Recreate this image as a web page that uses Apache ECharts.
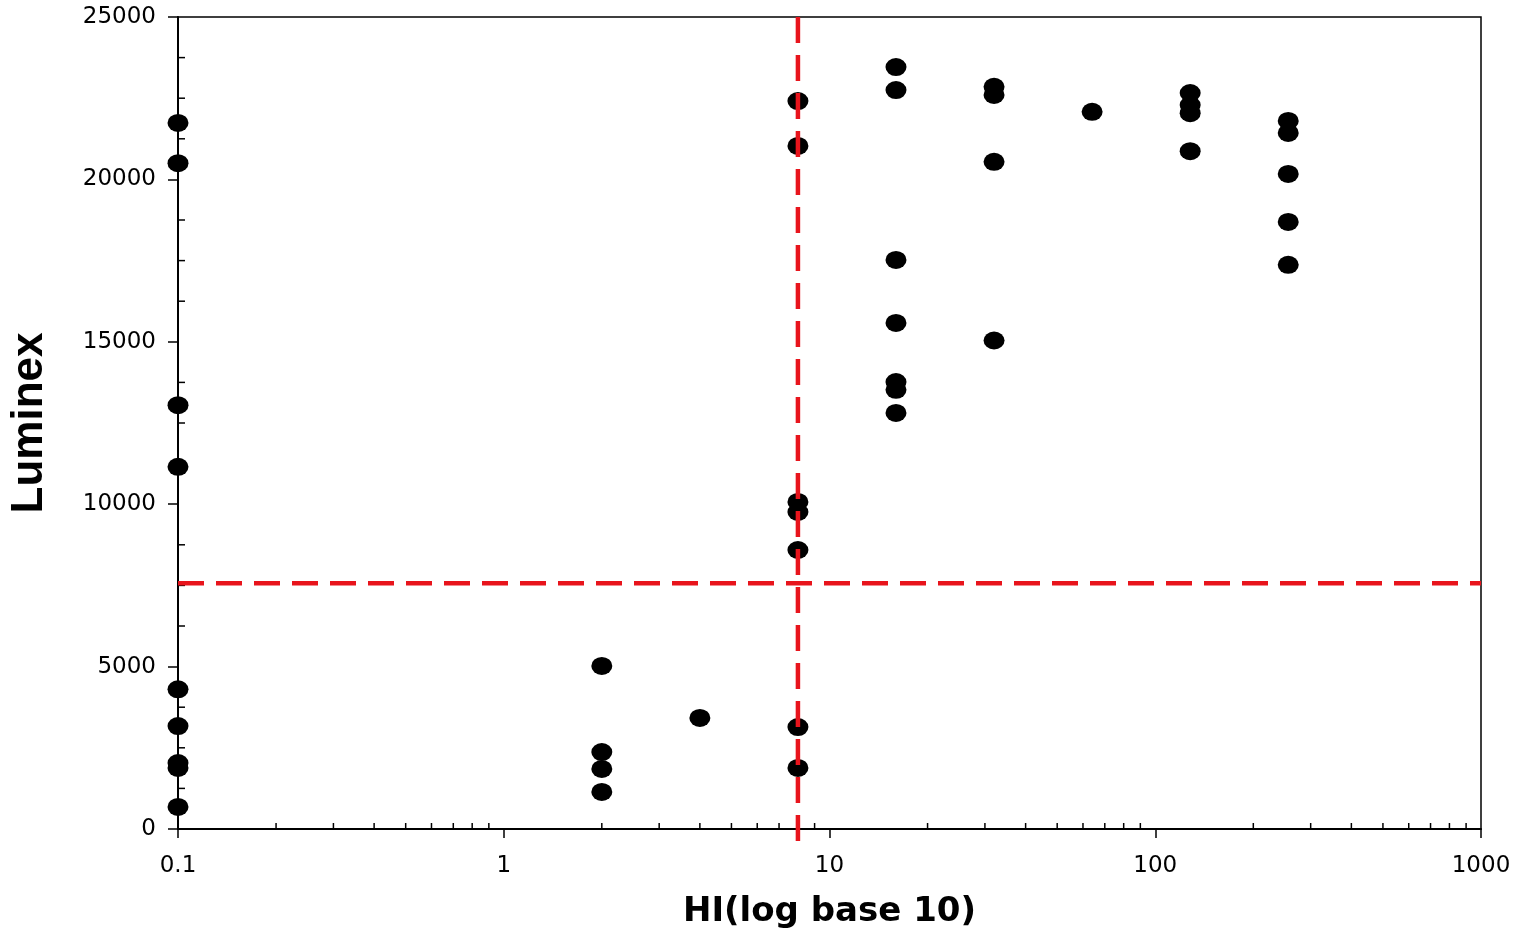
<!DOCTYPE html>
<html>
<head>
<meta charset="utf-8">
<script src="https://cdn.jsdelivr.net/npm/echarts@6/dist/echarts.min.js"></script>
<style>
  html, body { margin: 0; background: #fff; }
  #chart { width: 1526px; height: 937px; }
</style>
</head>
<body>
<div id="chart"></div>
<script>
// HI titres (x) and the Luminex readings seen at each titre (y)
var hiTiters = [0.1, 2, 4, 8, 16, 32, 64, 128, 256];
var luminex01 = [21740, 20500, 13050, 11150, 4300, 3170, 2030, 1880, 680];
var luminex2 = [5020, 2370, 1850, 1140];
var luminex4 = [3420];
var luminex8 = [22410, 21030, 10070, 9760, 8590, 3140, 1880];
var luminex16 = [23460, 22750, 17520, 15580, 13760, 13520, 12810];
var luminex32 = [22850, 22600, 20540, 15040];
var luminex64 = [22080];
var luminex128 = [22660, 22290, 22040, 20870];
var luminex256 = [21800, 21430, 20170, 18690, 17370];
var luminexByTiter = [luminex01, luminex2, luminex4, luminex8, luminex16, luminex32, luminex64, luminex128, luminex256];

// cut-off lines
var hiCutoff = 8;
var luminexCutoff = 7570;

// axis ticks
var xMin = 0.1, xMax = 1000;
var yMin = 0, yMax = 25000, yStep = 5000, yMinorStep = 1250;
var xMinorTicks = [];
[0.1, 1, 10, 100].forEach(function (d) {
  for (var k = 2; k <= 9; k++) xMinorTicks.push(+(d * k).toPrecision(3));
});
var yMinorTicks = [];
for (var v = yMinorStep; v < yMax; v += yMinorStep) {
  if (v % yStep !== 0) yMinorTicks.push(v);
}

var points = [];
hiTiters.forEach(function (hi, i) {
  luminexByTiter[i].forEach(function (y) { points.push([hi, y]); });
});

var RED = '#e8141c';

var chart = echarts.init(document.getElementById('chart'));
chart.setOption({
  backgroundColor: '#fff',
  animation: false,
  grid: {
    left: 178, right: 45, top: 17, bottom: 108,
    show: true, borderColor: '#000', borderWidth: 1.5, backgroundColor: 'transparent'
  },
  xAxis: {
    type: 'log',
    logBase: 10,
    min: xMin,
    max: xMax,
    name: 'HI(log base 10)',
    nameLocation: 'middle',
    nameGap: 66,
    nameTextStyle: { fontFamily: 'DejaVu Sans', fontWeight: 'bold', fontSize: 34, color: '#000' },
    axisLine: { onZero: false, lineStyle: { color: '#000', width: 2 } },
    axisTick: { length: 9, lineStyle: { color: '#000', width: 1.5 } },
    axisLabel: {
      margin: 26, fontFamily: 'DejaVu Sans', fontSize: 23, color: '#000',
      formatter: function (v) { return String(+v.toPrecision(3)); }
    },
    splitLine: { show: false }
  },
  yAxis: {
    type: 'value',
    min: yMin,
    max: yMax,
    interval: yStep,
    name: 'Luminex',
    nameLocation: 'middle',
    nameGap: 126,
    nameTextStyle: { fontFamily: 'Liberation Sans', fontWeight: 'bold', fontSize: 44, color: '#000' },
    axisLine: { onZero: false, lineStyle: { color: '#000', width: 2 } },
    axisTick: { length: 10, lineStyle: { color: '#000', width: 1.5 } },
    axisLabel: {
      margin: 22, fontFamily: 'DejaVu Sans', fontSize: 23, color: '#000',
      formatter: function (v) { return String(v); }
    },
    splitLine: { show: false }
  },
  series: [
    {
      name: 'samples',
      type: 'scatter',
      data: points,
      symbol: 'circle',
      symbolSize: [21, 18],
      clip: false,
      itemStyle: { color: '#000', opacity: 1 },
      z: 3
    },
    {
      // minor ticks on the log x axis, pointing inward
      type: 'custom',
      silent: true,
      clip: false,
      data: xMinorTicks.map(function (t) { return [t, yMin]; }),
      renderItem: function (params, api) {
        var p = api.coord([api.value(0), api.value(1)]);
        return {
          type: 'line',
          shape: { x1: p[0], y1: p[1], x2: p[0], y2: p[1] - 6 },
          style: { stroke: '#000', lineWidth: 1.5 }
        };
      },
      z: 2
    },
    {
      // minor ticks on the y axis, pointing inward
      type: 'custom',
      silent: true,
      clip: false,
      data: yMinorTicks.map(function (t) { return [xMin, t]; }),
      renderItem: function (params, api) {
        var p = api.coord([api.value(0), api.value(1)]);
        return {
          type: 'line',
          shape: { x1: p[0], y1: p[1], x2: p[0] + 7, y2: p[1] },
          style: { stroke: '#000', lineWidth: 1.5 }
        };
      },
      z: 2
    },
    {
      // dashed cut-off lines
      type: 'custom',
      silent: true,
      clip: false,
      data: [[hiCutoff, luminexCutoff]],
      renderItem: function (params, api) {
        var cx = api.value(0), cy = api.value(1);
        var top = api.coord([cx, yMax]);
        var bottom = api.coord([cx, yMin]);
        var left = api.coord([xMin, cy]);
        var right = api.coord([xMax, cy]);
        var style = { stroke: RED, lineWidth: 4.5, lineDash: [26, 12] };
        return {
          type: 'group',
          children: [
            { type: 'line', shape: { x1: top[0], y1: top[1], x2: bottom[0], y2: bottom[1] + 14 }, style: style },
            { type: 'line', shape: { x1: left[0], y1: left[1], x2: right[0], y2: right[1] }, style: style }
          ]
        };
      },
      z: 5
    }
  ]
});
</script>
</body>
</html>
